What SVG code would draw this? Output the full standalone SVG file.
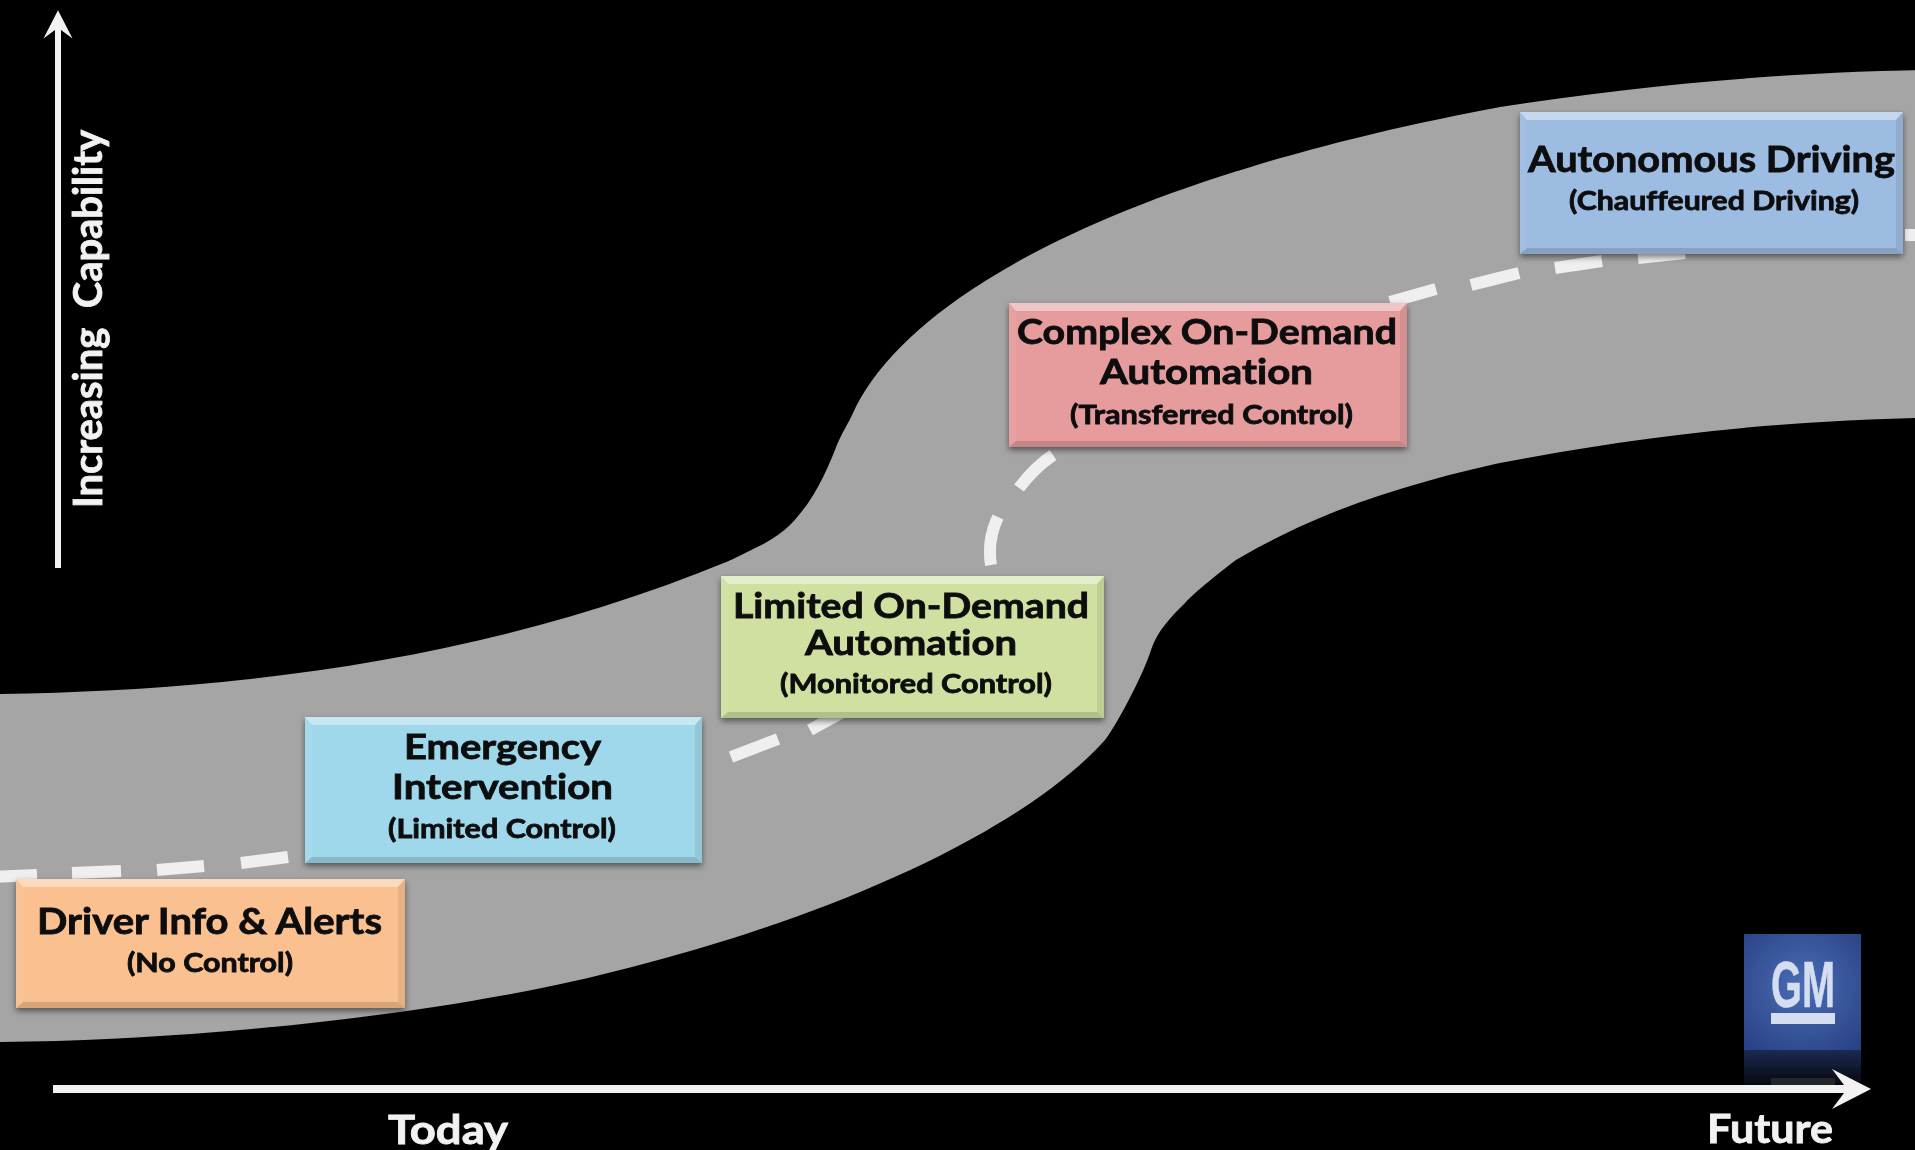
<svg xmlns="http://www.w3.org/2000/svg" width="1915" height="1150" viewBox="0 0 1915 1150">
<style>
.t{font-family:Lato,"Liberation Sans",sans-serif;font-weight:700;text-anchor:middle;fill:#0b0d10;stroke:#0b0d10;stroke-width:.8;font-variant-ligatures:none}
.h{font-size:37px}.h2{font-size:35px}.s{font-size:27px}
.w{fill:#f2f2f2;stroke:#f2f2f2;font-size:40px}
.hi{fill:#fff;opacity:.42}.lo{fill:#fff;opacity:.06}.dk{fill:#000;opacity:.08}.bt{fill:#000;opacity:.14}
.box{filter:url(#sh)}
</style>
<defs>
<filter id="sh" x="-5%" y="-5%" width="110%" height="115%"><feDropShadow dx="0" dy="3" stdDeviation="3" flood-color="#000" flood-opacity=".5"/></filter>
<filter id="soft" x="-2%" y="-2%" width="104%" height="104%"><feGaussianBlur stdDeviation="0.6"/></filter>
<radialGradient id="gm" cx=".5" cy=".45" r=".7"><stop offset="0" stop-color="#4a6db5"/><stop offset="1" stop-color="#2a4284"/></radialGradient>
<linearGradient id="gr" x1="0" y1="0" x2="0" y2="1"><stop offset="0" stop-color="#1c2a52"/><stop offset="1" stop-color="#04060c"/></linearGradient>
<marker id="ah" markerUnits="userSpaceOnUse" viewBox="0 0 40 40" refX="16" refY="20" markerWidth="40" markerHeight="40" orient="auto"><path d="M0,0L39,20L0,40L15,20Z" fill="#f2f2f2"/></marker>
<marker id="av" markerUnits="userSpaceOnUse" viewBox="0 0 40 40" refX="16" refY="20" markerWidth="29" markerHeight="32" orient="auto"><path d="M0,0L39,20L0,40L15,20Z" fill="#f2f2f2"/></marker>
</defs>
<rect width="1915" height="1150" fill="#000"/>
<g filter="url(#soft)">
<path id="band" fill="#a5a5a5" d="M-10,694L0,694C260,690 500,655 731,560C755,548 775,540 790,525C812,503 825,475 835,450C842,432 846,428 853,413C905,300 1110,180 1500,107C1640,85 1790,72 1925,70L1925,418L1915,418C1750,422 1620,440 1500,463C1410,483 1320,510 1236,560C1220,572 1195,592 1185,603C1170,618 1158,630 1151,650C1145,670 1120,720 1105,740C1010,845 790,930 600,975C480,1005 240,1040 0,1042L-10,1042Z"/>
<g id="gm-logo">
<rect x="1744" y="934" width="117" height="116" fill="url(#gm)"/>
<rect x="1744" y="1050" width="117" height="36" fill="url(#gr)"/>
<rect x="1771" y="1078" width="64" height="8" fill="#24262c"/>
<text x="1803" y="1007" font-family="Liberation Sans,sans-serif" font-weight="700" font-size="65" text-anchor="middle" fill="#d5def0" stroke="#d5def0" stroke-width=".6" textLength="64" lengthAdjust="spacingAndGlyphs">GM</text>
<rect x="1771" y="1013" width="64" height="11" fill="#d5def0"/>
</g>
<g id="connectors" fill="none">
<path id="path-dashes" stroke="#efefef" stroke-width="12" d="M-10,877L37,875M72,873L121,871M157,870L204,866M241,863L288,857M731,757L778,739M810,730L850,708M991,565Q987,540 998,517M1019,488Q1034,468 1053,455M1390,302L1436,289M1471,285L1519,273M1555,268L1602,261M1638,258L1685,253M1905,235L1925,235"/>
<path id="axis-y" stroke="#f2f2f2" stroke-width="6" d="M58,568L58,27" marker-end="url(#av)"/>
<path id="axis-x" stroke="#f2f2f2" stroke-width="8" d="M53,1089L1848,1089" marker-end="url(#ah)"/>
</g>
<g id="node-driver-info">
<rect class="box" x="16" y="879" width="389" height="129" fill="#fac090"/>
<polygon class="hi" points="16,879 405,879 398,887 23,887"/><polygon class="lo" points="16,879 23,887 23,1002 16,1008"/><polygon class="dk" points="405,879 398,887 398,1002 405,1008"/><polygon class="bt" points="16,1008 23,1002 398,1002 405,1008"/>
<text class="t h" x="209.5" y="934" textLength="345" lengthAdjust="spacingAndGlyphs">Driver Info &amp; Alerts</text>
<text class="t s" x="210" y="972" textLength="166" lengthAdjust="spacingAndGlyphs">(No Control)</text>
</g>
<g id="node-emergency">
<rect class="box" x="305" y="717" width="397" height="146" fill="#9fd8ea"/>
<polygon class="hi" points="305,717 702,717 695,725 312,725"/><polygon class="lo" points="305,717 312,725 312,857 305,863"/><polygon class="dk" points="702,717 695,725 695,857 702,863"/><polygon class="bt" points="305,863 312,857 695,857 702,863"/>
<text class="t h2" x="502.5" y="759" textLength="197" lengthAdjust="spacingAndGlyphs">Emergency</text>
<text class="t h2" x="502.5" y="799" textLength="221" lengthAdjust="spacingAndGlyphs">Intervention</text>
<text class="t s" x="502" y="838" textLength="228" lengthAdjust="spacingAndGlyphs">(Limited Control)</text>
</g>
<g id="node-limited">
<rect class="box" x="721" y="576" width="383" height="142" fill="#cfe0a0"/>
<polygon class="hi" points="721,576 1104,576 1097,584 728,584"/><polygon class="lo" points="721,576 728,584 728,712 721,718"/><polygon class="dk" points="1104,576 1097,584 1097,712 1104,718"/><polygon class="bt" points="721,718 728,712 1097,712 1104,718"/>
<text class="t h2" x="911" y="618" textLength="356" lengthAdjust="spacingAndGlyphs">Limited On-Demand</text>
<text class="t h2" x="911" y="655" textLength="212" lengthAdjust="spacingAndGlyphs">Automation</text>
<text class="t s" x="916" y="693" textLength="272" lengthAdjust="spacingAndGlyphs">(Monitored Control)</text>
</g>
<g id="node-complex">
<rect class="box" x="1009" y="303" width="398" height="144" fill="#e69c9c"/>
<polygon class="hi" points="1009,303 1407,303 1400,311 1016,311"/><polygon class="lo" points="1009,303 1016,311 1016,441 1009,447"/><polygon class="dk" points="1407,303 1400,311 1400,441 1407,447"/><polygon class="bt" points="1009,447 1016,441 1400,441 1407,447"/>
<text class="t h2" x="1207" y="344" textLength="380" lengthAdjust="spacingAndGlyphs">Complex On-Demand</text>
<text class="t h2" x="1206.5" y="384" textLength="213" lengthAdjust="spacingAndGlyphs">Automation</text>
<text class="t s" x="1211.5" y="424" textLength="283" lengthAdjust="spacingAndGlyphs">(Transferred Control)</text>
</g>
<g id="node-autonomous">
<rect class="box" x="1520" y="112" width="383" height="142" fill="#9dbce2"/>
<polygon class="hi" points="1520,112 1903,112 1896,120 1527,120"/><polygon class="lo" points="1520,112 1527,120 1527,248 1520,254"/><polygon class="dk" points="1903,112 1896,120 1896,248 1903,254"/><polygon class="bt" points="1520,254 1527,248 1896,248 1903,254"/>
<text class="t h" x="1711.5" y="172" textLength="367" lengthAdjust="spacingAndGlyphs">Autonomous Driving</text>
<text class="t s" x="1714" y="210" textLength="290" lengthAdjust="spacingAndGlyphs">(Chauffeured Driving)</text>
</g>
<g id="labels">
<text class="t w" transform="translate(102,319) rotate(-90)" style="word-spacing:10px" textLength="378" lengthAdjust="spacingAndGlyphs">Increasing Capability</text>
<text class="t w" x="448" y="1144" textLength="120" lengthAdjust="spacingAndGlyphs">Today</text>
<text class="t w" x="1770" y="1143" textLength="126" lengthAdjust="spacingAndGlyphs">Future</text>
</g>
</g>
</svg>
